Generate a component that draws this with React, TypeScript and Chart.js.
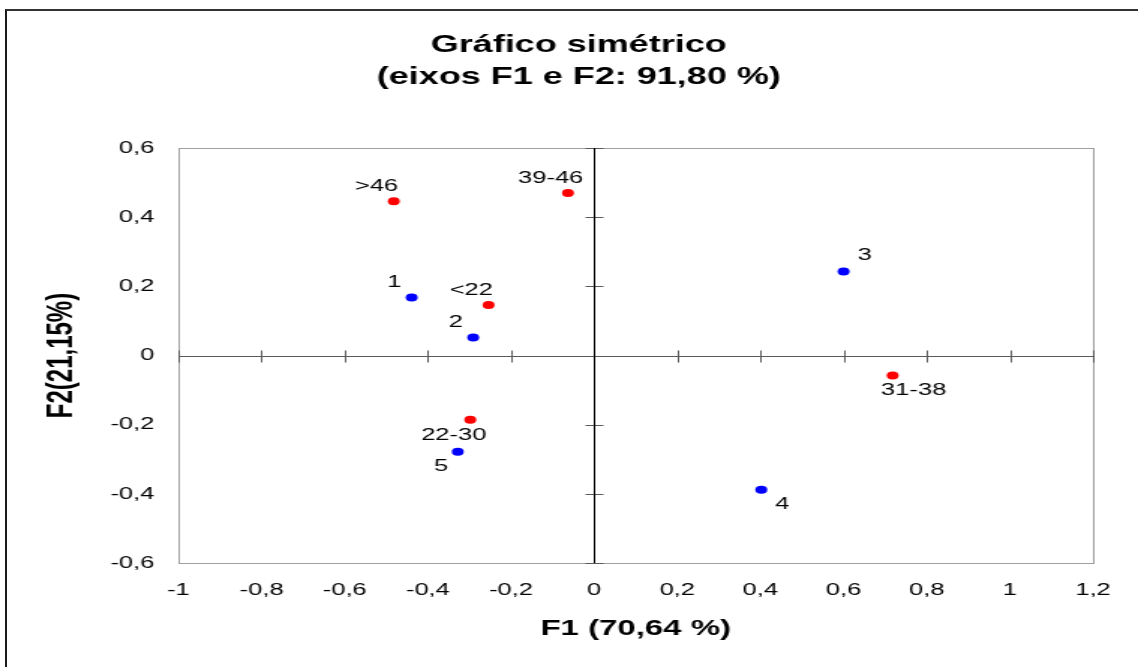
import React, { useEffect, useRef } from 'react';
import { Chart, registerables } from 'chart.js';

Chart.register(...registerables);

// ---- data ----
const ageLabels = ['>46', '39-46', '<22', '22-30', '31-38'];
const ageF1 = [-0.482, -0.063, -0.254, -0.298, 0.718];
const ageF2 = [0.446, 0.47, 0.146, -0.186, -0.058];
const agePlace = ['tl', 'tl', 'tl', 'bl', 'br'];

const groupLabels = ['1', '2', '3', '4', '5'];
const groupF1 = [-0.439, -0.291, 0.6, 0.402, -0.328];
const groupF2 = [0.168, 0.052, 0.243, -0.388, -0.278];
const groupPlace = ['tl', 'tl', 'tr', 'br', 'bl'];

const titleLines = ['Gráfico simétrico', '(eixos F1 e F2: 91,80 %)'];
const xTitle = 'F1 (70,64 %)';
const yTitle = 'F2(21,15%)';

const X_MIN = -1;
const X_MAX = 1.2;
const Y_MIN = -0.6;
const Y_MAX = 0.6;
const STEP = 0.2;

// ---- layout ----
const OUT_W = 1138;
const OUT_H = 667;
const CW = 759; // drawing width (stretched horizontally to OUT_W)
const STRETCH = OUT_W / CW;
const FONT = "'Liberation Sans', Arial, Helvetica, sans-serif";

const fmt = (v: number) => String(Math.round(v * 10) / 10).replace('.', ',');

const placeOffset: Record<string, [number, number]> = {
  tl: [-11.5, -15],
  tr: [14, -16],
  bl: [-11, 15],
  br: [14, 15],
};

const axesPlugin = {
  id: 'crossAxes',
  beforeDatasetsDraw(chart: any) {
    const { ctx, chartArea: a, scales } = chart;
    const xs = scales.x;
    const ys = scales.y;
    const line = (x1: number, y1: number, x2: number, y2: number) => {
      ctx.beginPath();
      ctx.moveTo(x1, y1);
      ctx.lineTo(x2, y2);
      ctx.stroke();
    };
    ctx.save();
    ctx.lineWidth = 1;
    ctx.strokeStyle = '#a0a0a0';
    ctx.strokeRect(Math.round(a.left) + 0.5, Math.round(a.top) + 0.5, Math.round(a.right - a.left), Math.round(a.bottom - a.top));
    const x0 = Math.round(xs.getPixelForValue(0)) + 0.5;
    const y0 = Math.round(ys.getPixelForValue(0)) + 0.5;
    ctx.strokeStyle = '#5a5a5a';
    line(a.left, y0, a.right, y0);
    xs.ticks.forEach((t: any) => {
      const px = Math.round(xs.getPixelForValue(t.value)) + 0.5;
      line(px, y0 - 6, px, y0 + 6);
    });
    ys.ticks.forEach((t: any) => {
      const py = Math.round(ys.getPixelForValue(t.value)) + 0.5;
      line(x0 - 6, py, x0 + 6, py);
    });
    ctx.strokeStyle = '#000';
    line(x0, a.top, x0, a.bottom);
    ctx.restore();
  },
};

const labelsPlugin = {
  id: 'pointLabels',
  afterDatasetsDraw(chart: any) {
    const { ctx } = chart;
    ctx.save();
    ctx.fillStyle = '#000';
    ctx.font = `17px ${FONT}`;
    ctx.textAlign = 'center';
    ctx.textBaseline = 'middle';
    const sets: [string[], string[]][] = [
      [ageLabels, agePlace],
      [groupLabels, groupPlace],
    ];
    sets.forEach(([labels, places], di) => {
      const meta = chart.getDatasetMeta(di);
      meta.data.forEach((pt: any, i: number) => {
        const [dx, dy] = placeOffset[places[i]];
        ctx.fillText(labels[i], pt.x + dx, pt.y + dy);
      });
    });
    ctx.restore();
  },
  afterDraw(chart: any) {
    const { ctx, chartArea: a } = chart;
    ctx.save();
    ctx.fillStyle = '#000';
    ctx.textAlign = 'center';
    ctx.textBaseline = 'middle';
    ctx.font = `bold 24px ${FONT}`;
    ctx.fillText(titleLines[0], 386, 45);
    ctx.fillText(titleLines[1], 386, 77);
    ctx.font = `bold 22px ${FONT}`;
    ctx.fillText(xTitle, (a.left + a.right) / 2, 629);
    ctx.translate(41, (a.top + a.bottom) / 2);
    ctx.rotate(-Math.PI / 2);
    ctx.font = `bold 24px ${FONT}`;
    ctx.fillText(yTitle, 0, 0);
    ctx.restore();
  },
};

export default function App() {
  const ref = useRef<HTMLCanvasElement>(null);

  useEffect(() => {
    const canvas = ref.current;
    if (!canvas) return;
    const chart = new Chart(canvas, {
      type: 'scatter',
      data: {
        datasets: [
          {
            label: 'idade',
            data: ageF1.map((v, i) => ({ x: v, y: ageF2[i] })),
            backgroundColor: '#ff0000',
            borderWidth: 0,
            pointRadius: 4,
            pointHoverRadius: 4,
          },
          {
            label: 'grupo',
            data: groupF1.map((v, i) => ({ x: v, y: groupF2[i] })),
            backgroundColor: '#0000ff',
            borderWidth: 0,
            pointRadius: 4,
            pointHoverRadius: 4,
          },
        ],
      },
      options: {
        responsive: false,
        animation: false,
        devicePixelRatio: 1,
        events: [],
        layout: { padding: { left: 0, right: 30, top: 148, bottom: 0 } },
        plugins: {
          legend: { display: false },
          tooltip: { enabled: false },
          title: { display: false },
        },
        scales: {
          x: {
            type: 'linear',
            min: X_MIN,
            max: X_MAX,
            grid: { display: false, drawTicks: false },
            border: { display: false },
            ticks: {
              stepSize: STEP,
              autoSkip: false,
              maxRotation: 0,
              padding: 17,
              color: '#000',
              font: { family: FONT, size: 17 },
              callback: (v: any) => fmt(Number(v)),
            },
            afterFit: (s: any) => {
              s.height = 104;
            },
          },
          y: {
            type: 'linear',
            min: Y_MIN,
            max: Y_MAX,
            grid: { display: false, drawTicks: false },
            border: { display: false },
            ticks: {
              stepSize: STEP,
              autoSkip: false,
              padding: 16,
              color: '#000',
              font: { family: FONT, size: 17 },
              callback: (v: any) => fmt(Number(v)),
            },
            afterFit: (s: any) => {
              s.width = 119;
            },
          },
        },
      } as any,
      plugins: [axesPlugin, labelsPlugin],
    });
    return () => chart.destroy();
  }, []);

  return (
    <div
      style={{
        position: 'fixed',
        left: 0,
        top: 0,
        width: OUT_W,
        height: OUT_H,
        overflow: 'hidden',
        background: '#fff',
      }}
    >
      <div
        style={{
          position: 'absolute',
          left: 0,
          top: 0,
          width: CW,
          height: OUT_H,
          transform: `scaleX(${STRETCH})`,
          transformOrigin: '0 0',
        }}
      >
        <canvas ref={ref} width={CW} height={OUT_H} style={{ display: 'block', width: CW, height: OUT_H }} />
      </div>
      <div
        style={{
          position: 'absolute',
          left: 5,
          top: 9,
          width: 3000,
          height: 3000,
          borderLeft: '2px solid #1a1a1a',
          borderTop: '2px solid #333',
          pointerEvents: 'none',
        }}
      />
    </div>
  );
}
